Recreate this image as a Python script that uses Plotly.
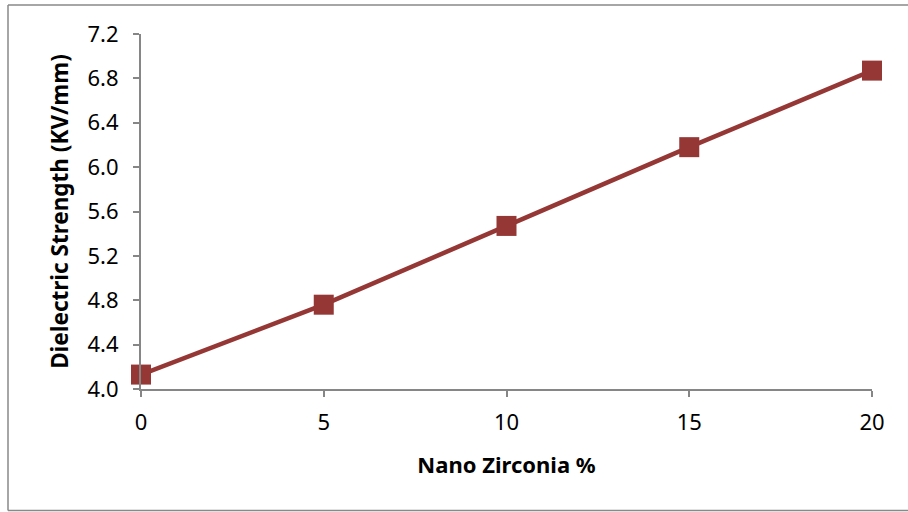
import plotly.graph_objects as go

x_vals = [0, 5, 10, 15, 20]
y_vals = [4.13, 4.76, 5.47, 6.18, 6.87]
x_ticks = [0, 5, 10, 15, 20]
y_ticks = [4.0, 4.4, 4.8, 5.2, 5.6, 6.0, 6.4, 6.8, 7.2]

color = "#953735"
axis_color = "#868686"
font_family = "Noto Sans, Open Sans, sans-serif"

fig = go.Figure()
fig.add_trace(go.Scatter(
    x=x_vals, y=y_vals, mode="lines+markers",
    line=dict(color=color, width=4.5),
    marker=dict(symbol="square", size=20, color=color),
    cliponaxis=False, showlegend=False,
))

L, R, T, B = 141, 36, 34, 123
W, H = 908, 512
pw = W - L - R
ph = H - T - B

fig.update_layout(
    width=W, height=H,
    margin=dict(l=L, r=R, t=T, b=B),
    paper_bgcolor="white", plot_bgcolor="white",
    font=dict(family=font_family, size=22, color="black"),
    xaxis=dict(
        range=[0, 20], tickvals=x_ticks, ticktext=[str(v) for v in x_ticks],
        showgrid=False, zeroline=False, showline=True, linecolor=axis_color, linewidth=2,
        ticks="outside", ticklen=6, tickwidth=2, tickcolor=axis_color,
        ticklabelstandoff=7,
        title=dict(text="<b>Nano Zirconia %</b>", font=dict(size=22), standoff=22),
    ),
    yaxis=dict(
        range=[4.0, 7.2], tickvals=y_ticks, ticktext=[f"{v:.1f}" for v in y_ticks],
        showgrid=False, zeroline=False, showline=True, linecolor=axis_color, linewidth=2,
        ticks="outside", ticklen=6, tickwidth=2, tickcolor=axis_color,
        ticklabelstandoff=10,
        title=dict(text="<b>Dielectric Strength (KV/mm)</b>", font=dict(size=22.5), standoff=13),
    ),
)

# outer chart border (left, top, bottom edges visible in the frame)
bx0 = (8 - L) / pw
bx1 = (930 - L) / pw
by0 = (H - B - 510.5) / ph
by1 = (H - B - 5) / ph
border = dict(color="#898989", width=1.5)
fig.add_shape(type="line", xref="paper", yref="paper", x0=bx0, x1=bx0, y0=by0, y1=by1, line=border, layer="below")
fig.add_shape(type="line", xref="paper", yref="paper", x0=bx0, x1=bx1, y0=by1, y1=by1, line=border, layer="below")
fig.add_shape(type="line", xref="paper", yref="paper", x0=bx0, x1=bx1, y0=by0, y1=by0, line=border, layer="below")

fig.write_html(
    "out.html",
    config={"displayModeBar": False},
    post_script="document.body.style.margin='0';document.body.style.padding='0';",
)
